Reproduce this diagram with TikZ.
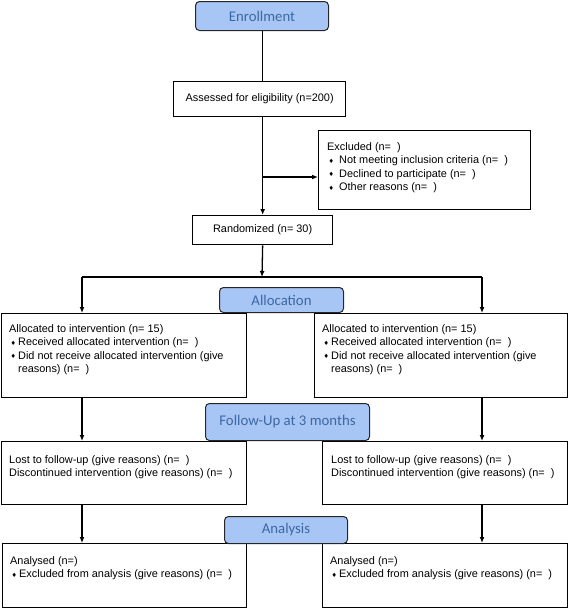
\documentclass[tikz,border=0pt]{standalone}
\usepackage{fontspec}
\setmainfont{Liberation Sans}
\newfontfamily\headfont{Carlito}
\newfontfamily\symfont{DejaVu Sans}
\usetikzlibrary{arrows.meta}
\definecolor{headfill}{RGB}{168,198,245}
\definecolor{headtext}{RGB}{60,104,162}
\newcommand\bul[1][9pt]{\makebox[#1][l]{\hspace{1.5pt}\raisebox{0.2pt}{\fontsize{6}{6}\selectfont\symfont ♦}}}
\begin{document}
\begin{tikzpicture}[x=1pt,y=-1pt,
 box/.style={draw, line width=1.3pt, anchor=north west, inner sep=0pt, font=\fontsize{10.9}{13.5}\selectfont},
 head/.style={draw=black!85, line width=1pt, rounded corners=4pt, fill=headfill, text=headtext, font=\headfont\fontsize{14.8}{16}\selectfont, anchor=north west, inner sep=0pt},
 txt/.style={anchor=north west, inner sep=0pt, align=left, font=\fontsize{10.9}{13.5}\selectfont},
 arr/.style={-{Latex[length=6pt,width=5pt]}, line width=1.3pt},
 ln/.style={line width=1.3pt}]
\useasboundingbox (0,0) rectangle (568,608);
% boxes
\node[box, minimum width=172pt, minimum height=35pt] (assess) at (173,81) {Assessed for eligibility (n=200)};
\node[box, minimum width=212pt, minimum height=79pt] (excl) at (318,130) {};
\node[txt] (exclt) at (327,142) {Excluded (n=~~)\\ \bul[12pt]Not meeting inclusion criteria (n=~~)\\ \bul[12pt]Declined to participate (n=~~)\\ \bul[12pt]Other reasons (n=~~)};
\node[box, minimum width=140pt, minimum height=29pt] (rand) at (192,215) {Randomized (n= 30)};
\node[box, minimum width=245pt, minimum height=84pt] (allocL) at (1,313) {};
\node[box, minimum width=253pt, minimum height=84pt] (allocR) at (314,313) {};
\node[txt] (allocLt) at (9,324) {Allocated to intervention (n= 15)\\ \bul Received allocated intervention (n=~~)\\ \bul Did not receive allocated intervention (give\\ \hspace*{9pt}reasons) (n=~~)};
\node[txt] (allocRt) at (322,324) {Allocated to intervention (n= 15)\\ \bul Received allocated intervention (n=~~)\\ \bul Did not receive allocated intervention (give\\ \hspace*{9pt}reasons) (n=~~)};
\node[box, minimum width=245pt, minimum height=63pt] (lostL) at (1,441) {};
\node[box, minimum width=245pt, minimum height=63pt] (lostR) at (322,441) {};
\node[txt] (lostLt) at (9,455) {Lost to follow-up (give reasons) (n=~~)\\ Discontinued intervention (give reasons) (n=~~)};
\node[txt] (lostRt) at (331,455) {Lost to follow-up (give reasons) (n=~~)\\ Discontinued intervention (give reasons) (n=~~)};
\node[box, minimum width=244pt, minimum height=64pt] (anaL) at (2,543) {};
\node[box, minimum width=245pt, minimum height=64pt] (anaR) at (322,543) {};
\node[txt] (anaLt) at (10,556) {Analysed (n=)\\ \bul Excluded from analysis (give reasons) (n=~~)};
\node[txt] (anaRt) at (330,556) {Analysed (n=)\\ \bul Excluded from analysis (give reasons) (n=~~)};
% headings
\node[head, minimum width=133pt, minimum height=29pt] (enroll) at (195,1) {Enrollment};
\node[head, minimum width=124pt, minimum height=25pt] (alloc) at (219,287) {Allocation};
\node[head, minimum width=164pt, minimum height=37pt] (follow) at (205,403) {Follow-Up at 3 months};
\node[head, minimum width=123pt, minimum height=27pt] (anal) at (224,516) {Analysis};
% connectors
\coordinate (split) at (262,277);
\coordinate (sl) at (82,277);
\coordinate (sr) at (482,277);
\coordinate (jx) at (262,177);
\draw[ln] (enroll.south -| rand.north) -- (assess.north -| rand.north);
\draw[arr] (assess.south -| rand.north) -- (rand.north);
\draw[arr] (jx) -- (jx -| excl.west);
\draw[arr] (rand.south) -- (split);
\draw[ln] (sl) -- (sr);
\draw[arr] (sl) -- (sl |- allocL.north);
\draw[arr] (sr) -- (sr |- allocR.north);
\draw[arr] (sl |- allocL.south) -- (sl |- lostL.north);
\draw[arr] (sr |- allocR.south) -- (sr |- lostR.north);
\draw[arr] (sl |- lostL.south) -- (sl |- anaL.north);
\draw[arr] (sr |- lostR.south) -- (sr |- anaR.north);
\end{tikzpicture}
\end{document}
